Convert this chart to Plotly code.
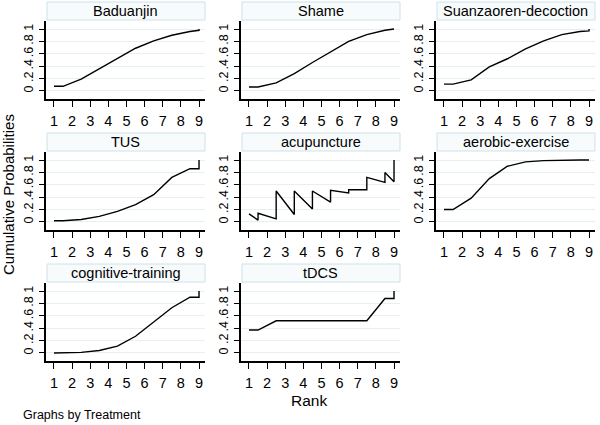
import plotly.graph_objects as go

# ---------------- data ----------------
treatments = ["Baduanjin", "Shame", "Suanzaoren-decoction", "TUS", "acupuncture",
              "aerobic-exercise", "cognitive-training", "tDCS"]

x_baduanjin = [1, 1.5, 2.5, 3.5, 4.5, 5.5, 6.5, 7.5, 8.5, 9, 9]
y_baduanjin = [0.075, 0.075, 0.19, 0.36, 0.53, 0.69, 0.81, 0.90, 0.96, 0.98, 1.0]

x_shame = [1, 1.5, 2.5, 3.5, 4.5, 5.5, 6.5, 7.5, 8.5, 9]
y_shame = [0.065, 0.065, 0.13, 0.28, 0.46, 0.63, 0.80, 0.91, 0.98, 1.0]

x_suanzaoren = [1, 1.5, 2.5, 3.5, 4.5, 5.5, 6.5, 7.5, 8.5, 9, 9]
y_suanzaoren = [0.11, 0.11, 0.18, 0.39, 0.52, 0.68, 0.81, 0.91, 0.96, 0.97, 1.0]

x_tus = [1, 1.5, 2.5, 3.5, 4.5, 5.5, 6.5, 7.5, 8.5, 9, 9]
y_tus = [0.02, 0.02, 0.04, 0.09, 0.17, 0.28, 0.44, 0.72, 0.86, 0.86, 1.0]

x_acupuncture = [1, 1.5, 1.5, 2.5, 2.5, 3.5, 3.5, 4.5, 4.5, 5.5, 5.5, 6.5, 6.5,
                 7.5, 7.5, 8.5, 8.5, 9, 9]
y_acupuncture = [0.13, 0.03, 0.14, 0.05, 0.50, 0.12, 0.50, 0.21, 0.50, 0.32, 0.51,
                 0.47, 0.52, 0.52, 0.72, 0.64, 0.80, 0.65, 1.0]

x_aerobic = [1, 1.5, 2.5, 3.5, 4.5, 5.5, 6.5, 7.5, 8.5, 9]
y_aerobic = [0.20, 0.20, 0.385, 0.70, 0.90, 0.97, 0.99, 1.0, 1.0, 1.0]

x_cognitive = [1, 1.5, 2.5, 3.5, 4.5, 5.5, 6.5, 7.5, 8.5, 9, 9]
y_cognitive = [0.0, 0.0, 0.01, 0.04, 0.11, 0.27, 0.50, 0.73, 0.90, 0.90, 1.0]

x_tdcs = [1, 1.5, 2.5, 3.5, 4.5, 5.5, 6.5, 7.5, 8.5, 9, 9]
y_tdcs = [0.37, 0.37, 0.52, 0.52, 0.52, 0.52, 0.52, 0.52, 0.88, 0.88, 1.0]

series_x = [x_baduanjin, x_shame, x_suanzaoren, x_tus, x_acupuncture, x_aerobic, x_cognitive, x_tdcs]
series_y = [y_baduanjin, y_shame, y_suanzaoren, y_tus, y_acupuncture, y_aerobic, y_cognitive, y_tdcs]

x_ticks = [1, 2, 3, 4, 5, 6, 7, 8, 9]
y_ticks = [0, 0.2, 0.4, 0.6, 0.8, 1]
y_ticktext = ["0", ".2", ".4", ".6", ".8", "1"]

# ---------------- layout geometry (pixels) ----------------
W, H = 600, 425
col_px = [(46, 205), (241, 400), (436, 595)]
row_px = [(21, 99), (152, 230), (283, 361)]   # (top, bottom) of plot area
box_h = 18

def px_x(p):
    return p / W

def px_y(p):
    return 1 - p / H

FONT = "Liberation Sans, Arial, sans-serif"

fig = go.Figure()
layout = dict(
    width=W, height=H,
    margin=dict(l=0, r=0, t=0, b=0),
    paper_bgcolor="white", plot_bgcolor="white",
    showlegend=False,
    font=dict(family=FONT, color="black"),
)
shapes = []
annotations = []

for i, name in enumerate(treatments):
    r, c = divmod(i, 3)
    k = "" if i == 0 else str(i + 1)
    x0, x1 = col_px[c]
    top, bot = row_px[r]
    fig.add_trace(go.Scatter(
        x=series_x[i], y=series_y[i], mode="lines",
        line=dict(color="black", width=1.4),
        xaxis="x" + k, yaxis="y" + k, hoverinfo="skip",
    ))
    layout["xaxis" + k] = dict(
        domain=[px_x(x0), px_x(x1)], anchor="y" + k,
        range=[0.56, 9.33], tickvals=x_ticks,
        ticks="outside", ticklen=6, tickwidth=1.3, tickcolor="black",
        ticklabelstandoff=2,
        showline=True, linecolor="black", linewidth=1.6,
        showgrid=False, zeroline=False, fixedrange=True,
        tickfont=dict(size=14.5, family=FONT, color="black"),
    )
    layout["yaxis" + k] = dict(
        domain=[px_y(bot), px_y(top)], anchor="x" + k,
        range=[-0.13, 1.13], tickvals=y_ticks, ticktext=y_ticktext,
        tickangle=-90,
        ticks="outside", ticklen=5, tickwidth=1.3, tickcolor="black",
        ticklabelstandoff=1,
        showline=True, linecolor="black", linewidth=1.6,
        showgrid=True, gridcolor="#E6EFF1", gridwidth=1,
        zeroline=False, fixedrange=True,
        tickfont=dict(size=12.5, family=FONT, color="black"),
    )
    # strip title box
    shapes.append(dict(
        type="rect", xref="paper", yref="paper",
        x0=px_x(x0 + 1), x1=px_x(x1), y0=px_y(top - 1), y1=px_y(top - 1 - box_h),
        fillcolor="#F7FBFC", line=dict(color="#CFE1E8", width=1), layer="below",
    ))
    annotations.append(dict(
        text=name, xref="paper", yref="paper",
        x=px_x((x0 + x1) / 2), y=px_y(top - 1 - box_h / 2),
        xanchor="center", yanchor="middle", showarrow=False,
        font=dict(size=14.5, family=FONT, color="black"),
    ))

annotations.append(dict(
    text="Cumulative Probabilities", xref="paper", yref="paper",
    x=px_x(9), y=px_y(195), xanchor="center", yanchor="middle",
    textangle=-90, showarrow=False, font=dict(size=15, family=FONT, color="black"),
))
annotations.append(dict(
    text="Rank", xref="paper", yref="paper",
    x=px_x(309), y=px_y(400), xanchor="center", yanchor="middle",
    showarrow=False, font=dict(size=15.5, family=FONT, color="black"),
))
annotations.append(dict(
    text="Graphs by Treatment", xref="paper", yref="paper",
    x=px_x(21), y=px_y(415), xanchor="left", yanchor="middle",
    showarrow=False, font=dict(size=12.5, family=FONT, color="black"),
))

layout["shapes"] = shapes
layout["annotations"] = annotations
fig.update_layout(**layout)
fig.write_html("out.html")
